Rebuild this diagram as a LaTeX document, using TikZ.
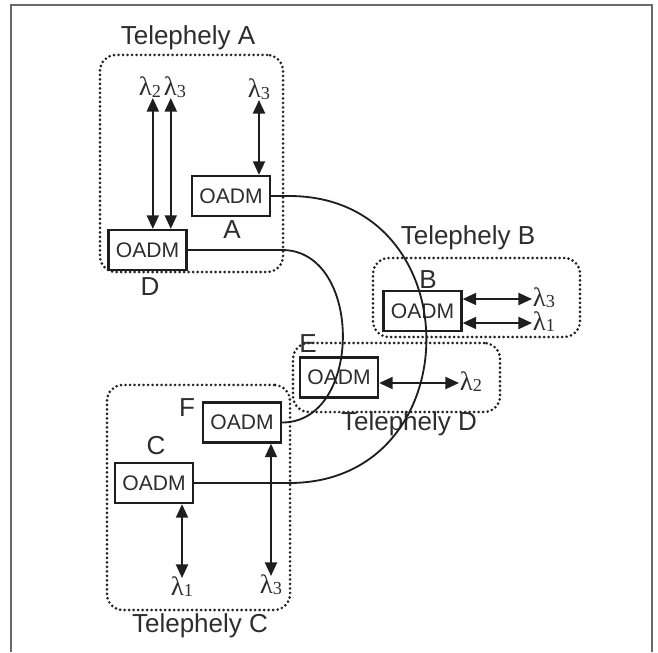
\documentclass[tikz,border=0pt]{standalone}
\usepackage{fontspec}
\setmainfont{Liberation Serif}
\setsansfont{Liberation Sans}
\usetikzlibrary{arrows.meta,positioning}
\definecolor{linecolor}{RGB}{30,30,30}
\definecolor{textcolor}{RGB}{45,45,45}
\definecolor{dotcolor}{RGB}{35,35,35}
\definecolor{framecolor}{RGB}{105,105,105}
\newcommand{\lamsub}[1]{λ\raisebox{-1pt}{\fontsize{13}{13}\selectfont #1}}
\tikzset{
oadm/.style={
  draw=linecolor,
  line width=1.6pt,
  minimum width=1.95cm,
  minimum height=1cm,
  inner sep=0pt,
  font=\sffamily\fontsize{15}{18}\selectfont,
  text=textcolor
},
site/.style={
  draw=dotcolor,
  line width=2.1pt,
  dash pattern=on 0pt off 3.2pt,
  line cap=round,
  rounded corners=0.4cm,
  inner sep=0pt
},
sitelabel/.style={
  font=\sffamily\fontsize{18.5}{22}\selectfont,
  text=textcolor
},
nodelabel/.style={
  font=\sffamily\fontsize{18.5}{22}\selectfont,
  text=textcolor,
  inner sep=0pt
},
lam/.style={
  font=\fontsize{19}{21}\selectfont,
  text=textcolor,
  text height=11.5pt,
  text depth=1pt,
  inner sep=0.5pt
},
biarrow/.style={
  {Triangle[length=3.4mm,width=3mm]}-{Triangle[length=3.4mm,width=3mm]},
  line width=1.5pt,
  draw=linecolor
},
fiber/.style={
  line width=1.3pt,
  draw=linecolor
}
}

\begin{document}
\begin{tikzpicture}[x=0.025cm, y=-0.025cm]
\useasboundingbox (0,0) rectangle (658,652);

% frame
\draw[framecolor, line width=1pt] (11,652) -- (11,5) -- (652,5) -- (652,652);

% sites
\node[site, minimum width=4.575cm, minimum height=5.425cm] (siteA) at (191.5,163.5) {};
\node[site, minimum width=5.175cm, minimum height=1.975cm] (siteB) at (476.5,297.5) {};
\node[site, minimum width=5.175cm, minimum height=1.725cm] (siteD) at (396.5,377.5) {};
\node[site, minimum width=4.575cm, minimum height=5.625cm] (siteC) at (198.5,497.5) {};

\node[sitelabel] (titleA) at (188,38) {Telephely A};
\node[sitelabel] (titleB) at (468,238) {Telephely B};
\node[sitelabel] (titleD) at (409,424) {Telephely D};
\node[sitelabel] (titleC) at (200,626) {Telephely C};

% OADM nodes
\node[oadm] (A) at (231,196) {OADM};
\node[oadm] (D) at (147.5,250) {OADM};
\node[oadm] (B) at (422.5,311) {OADM};
\node[oadm] (E) at (339,377.5) {OADM};
\node[oadm] (F) at (242,422.5) {OADM};
\node[oadm] (C) at (154,483) {OADM};

\node[nodelabel] (labA) at (232,230) {A};
\node[nodelabel] (labD) at (150,287) {D};
\node[nodelabel] (labB) at (428,280) {B};
\node[nodelabel] (labE) at (308,344) {E};
\node[nodelabel] (labF) at (187,408) {F};
\node[nodelabel] (labC) at (156,446) {C};

% wavelengths
\node[lam, anchor=south] (lamDa) at (150,98) {\lamsub{2}};
\node[lam, anchor=south] (lamDb) at (175,98) {\lamsub{3}};
\node[lam, anchor=south] (lamA) at (259,100) {\lamsub{3}};
\node[lam, anchor=west] (lamBa) at (532,299) {\lamsub{3}};
\node[lam, anchor=west] (lamBb) at (532,323) {\lamsub{1}};
\node[lam, anchor=west] (lamE) at (459,383) {\lamsub{2}};
\node[lam, anchor=north] (lamCa) at (182,578) {\lamsub{1}};
\node[lam, anchor=north] (lamF) at (271,576) {\lamsub{3}};

\draw[biarrow] ([xshift=2pt]lamDa.south) -- ([xshift=2pt]lamDa.south |- D.north);
\draw[biarrow] ([xshift=-3pt]lamDb.south) -- ([xshift=-3pt]lamDb.south |- D.north);
\draw[biarrow] (lamA.south) -- (lamA.south |- A.north);
\draw[biarrow] (B.east |- lamBa.west) -- (lamBa.west);
\draw[biarrow] (B.east |- lamBb.west) -- (lamBb.west);
\draw[biarrow] (E.east |- lamE.west) -- (lamE.west);
\draw[biarrow] (lamCa.north |- C.south) -- (lamCa.north);
\draw[biarrow] (lamF.north |- F.south) -- (lamF.north);

% fibres
\path (A.east) ++(18,0) coordinate (bendA);
\draw[fiber] (A.east) -- (bendA) .. controls +(183,0) and +(183,0) .. (bendA |- C.east) -- (C.east);
\draw[fiber] (D.east) -- (D.east -| F.east) .. controls +(81,0) and +(81,0) .. (F.east);

\end{tikzpicture}
\end{document}
